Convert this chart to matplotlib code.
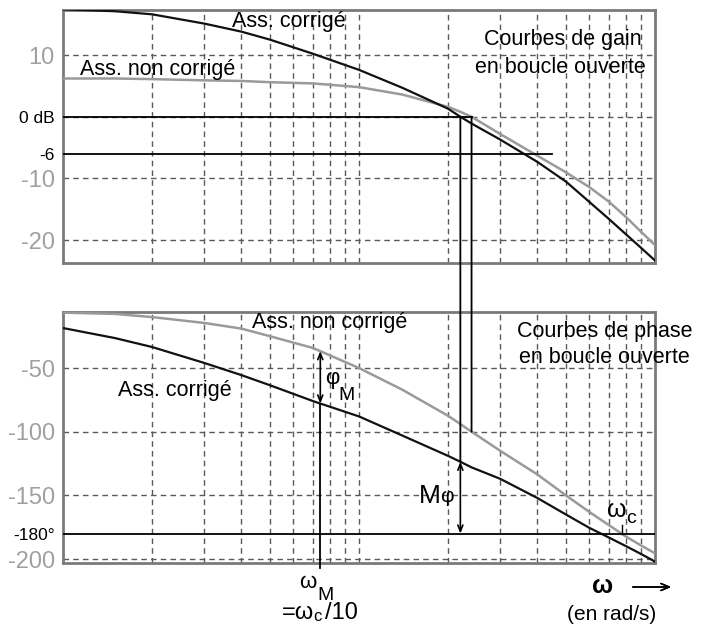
import numpy as np
import matplotlib.pyplot as plt
from matplotlib.patches import ConnectionPatch

plt.rcParams['font.family'] = ['Liberation Sans', 'DejaVu Sans']

# pulsations (rad/s), 2 décades
w = [1, 1.5, 2, 3, 4, 5, 7, 10, 14, 20, 22, 24, 30, 40, 50, 60, 70, 80, 90, 100]

# gains en boucle ouverte (dB)
gain_corr = [17.4, 17.1, 16.6, 15.1, 13.8, 12.5, 10.2, 7.6, 4.7, 1.3, 0.0, -1.1,
             -3.7, -7.3, -10.5, -13.8, -16.6, -19.1, -21.3, -23.3]
gain_nc = [6.2, 6.2, 6.1, 5.9, 5.8, 5.6, 5.4, 4.8, 3.6, 1.6, 0.8, 0.0,
           -2.8, -6.3, -9.0, -11.4, -13.8, -16.3, -18.7, -20.8]

# phases en boucle ouverte (degrés)
phase_corr = [-18.6, -26.5, -33.5, -46, -55.5, -63.5, -76, -88, -103, -119, -123.6, -128,
              -137, -152, -165, -175.5, -183.2, -190, -196.2, -202]
phase_nc = [-6.5, -7.5, -10, -14.6, -19, -25, -34.3, -50, -67, -87.5, -94, -100,
            -115, -133.5, -150, -163, -173.5, -182.5, -189.5, -195.5]

gain_grid = [10, 0, -10, -20]
phase_grid = [-50, -100, -150, -200]
w_grid = [2, 3, 4, 5, 6, 7, 8, 9, 10, 20, 30, 40, 50, 60, 70, 80, 90]

w_M = 7.4          # pulsation du maximum de phase du correcteur
w_ref6 = 45        # fin du trait à -6 dB

lw = np.log10(w)


def at(wx, series):
    return np.interp(np.log10(wx), lw, series)


def cross(series, level):
    s = np.array(series)[::-1]
    return 10 ** np.interp(level, s, lw[::-1])


w_c = cross(gain_corr, 0)      # coupure, asservissement corrigé
w_c_nc = cross(gain_nc, 0)     # coupure, non corrigé
w_180 = cross(phase_nc, -180)

W, H = 704, 626


def fx(x):
    return x / W


def fy(y):
    return 1 - y / H


fig = plt.figure(figsize=(7.04, 6.26), dpi=100)
ax1 = fig.add_axes([fx(63), fy(263), fx(655) - fx(63), fy(10) - fy(263)])
ax2 = fig.add_axes([fx(63), fy(563), fx(655) - fx(63), fy(312) - fy(563)])

grid_kw = dict(color='#5a5a5a', lw=1.0, ls=(0, (4, 3)), zorder=1)
for ax in (ax1, ax2):
    ax.set_xscale('log')
    ax.set_xlim(1, 100)
    ax.set_xticks(w_grid)
    ax.set_xticklabels([])
    ax.xaxis.set_minor_locator(plt.NullLocator())
    ax.grid(axis='x', **grid_kw)
    ax.tick_params(length=0, pad=6)
    for sp in ax.spines.values():
        sp.set_color('#7a7a7a')
        sp.set_linewidth(2)

# --- gain ---
ax1.set_ylim(-23.7, 17.3)
for g in gain_grid:
    ax1.axhline(g, **grid_kw)
ax1.plot(w, gain_nc, color='#9a9a9a', lw=1.8, zorder=3)
ax1.plot(w, gain_corr, color='#111111', lw=1.6, zorder=4)
ax1.plot([1, w_c_nc], [0, 0], color='k', lw=1.3, zorder=5)
ax1.plot([1, w_ref6], [-6, -6], color='k', lw=1.3, zorder=5)
ax1.set_yticks([10, 0, -6, -10, -20])
ax1.set_yticklabels(['10', '0 dB', '-6', '-10', '-20'])

# --- phase ---
ax2.set_ylim(-203.1, -6)
for p in phase_grid:
    ax2.axhline(p, **grid_kw)
ax2.plot(w, phase_nc, color='#9a9a9a', lw=1.8, zorder=3)
ax2.plot(w, phase_corr, color='#111111', lw=1.6, zorder=4)
ax2.axhline(-180, color='k', lw=1.3, zorder=5)
ax2.set_yticks([-50, -100, -150, -180, -200])
ax2.set_yticklabels(['-50', '-100', '-150', '-180°', '-200'])

for ax in (ax1, ax2):
    for lab in ax.get_yticklabels():
        if lab.get_text() in ('0 dB', '-6', '-180°'):
            lab.set_fontsize(12.5)
            lab.set_color('black')
        else:
            lab.set_fontsize(17)
            lab.set_color('#a0a0a0')

# traits verticaux reliant gain et phase
for wx, series in ((w_c, phase_corr), (w_c_nc, phase_nc)):
    con = ConnectionPatch(xyA=(wx, 0), coordsA=ax1.transData,
                          xyB=(wx, at(wx, series)), coordsB=ax2.transData,
                          color='k', lw=1.3, zorder=6)
    fig.add_artist(con)

# marge de phase
arrow = dict(arrowstyle='<->,head_length=0.45,head_width=0.18', color='k', lw=1.2,
             shrinkA=0, shrinkB=0)
ax2.annotate('', xy=(w_c, at(w_c, phase_corr)), xytext=(w_c, -180), arrowprops=arrow, zorder=6)

# phase maximale apportée par le correcteur
phi_hi = at(w_M, phase_nc)
phi_lo = at(w_M, phase_corr)
ax2.annotate('', xy=(w_M, phi_hi), xytext=(w_M, phi_lo), arrowprops=arrow, zorder=6)
ax2.plot([w_M, w_M], [phi_lo, -207], color='k', lw=1.3, clip_on=False, zorder=6)

# repère de la pulsation à -180°
ax2.plot([w_180, w_180], [-180, -173], color='k', lw=1.0, zorder=6)

# textes
txt = dict(fontsize=15.5, va='baseline', zorder=10)
fig.text(fx(232), fy(27), 'Ass. corrigé', **txt)
fig.text(fx(80), fy(75), 'Ass. non corrigé', **txt)
fig.text(fx(484), fy(45), 'Courbes de gain', **txt)
fig.text(fx(475), fy(73), 'en boucle ouverte', **txt)
fig.text(fx(252), fy(328), 'Ass. non corrigé', **txt)
fig.text(fx(517), fy(337), 'Courbes de phase', **txt)
fig.text(fx(519), fy(363), 'en boucle ouverte', **txt)
fig.text(fx(118), fy(396), 'Ass. corrigé', **txt)

fig.text(fx(325), fy(384), 'φ', fontsize=16, va='baseline')
fig.text(fx(338), fy(400), 'M', fontsize=14, va='baseline')
fig.text(fx(419), fy(503), 'M', fontsize=19, va='baseline')
fig.text(fx(440), fy(502), 'φ', fontsize=15, va='baseline')
fig.text(fx(607), fy(517), 'ω', fontsize=18, va='baseline')
fig.text(fx(626), fy(523), 'c', fontsize=14, va='baseline')

fig.text(fx(299), fy(588), 'ω', fontsize=16, va='baseline')
fig.text(fx(317), fy(600), 'M', fontsize=14, va='baseline')
fig.text(fx(282), fy(619), '=ω', fontsize=17, va='baseline')
fig.text(fx(313), fy(621), 'c', fontsize=12, va='baseline')
fig.text(fx(325), fy(619), '/10', fontsize=17, va='baseline')

fig.text(fx(592), fy(593), 'ω', fontsize=18, fontweight='bold', va='baseline')
fig.add_artist(plt.annotate('', xy=(fx(674), fy(587)), xytext=(fx(630), fy(587)),
                            xycoords='figure fraction', textcoords='figure fraction',
                            arrowprops=dict(arrowstyle='->,head_length=0.6,head_width=0.25',
                                            color='k', lw=1.1)))
fig.text(fx(567), fy(620), '(en rad/s)', fontsize=15, va='baseline')

fig.savefig('out.png', dpi=100)
